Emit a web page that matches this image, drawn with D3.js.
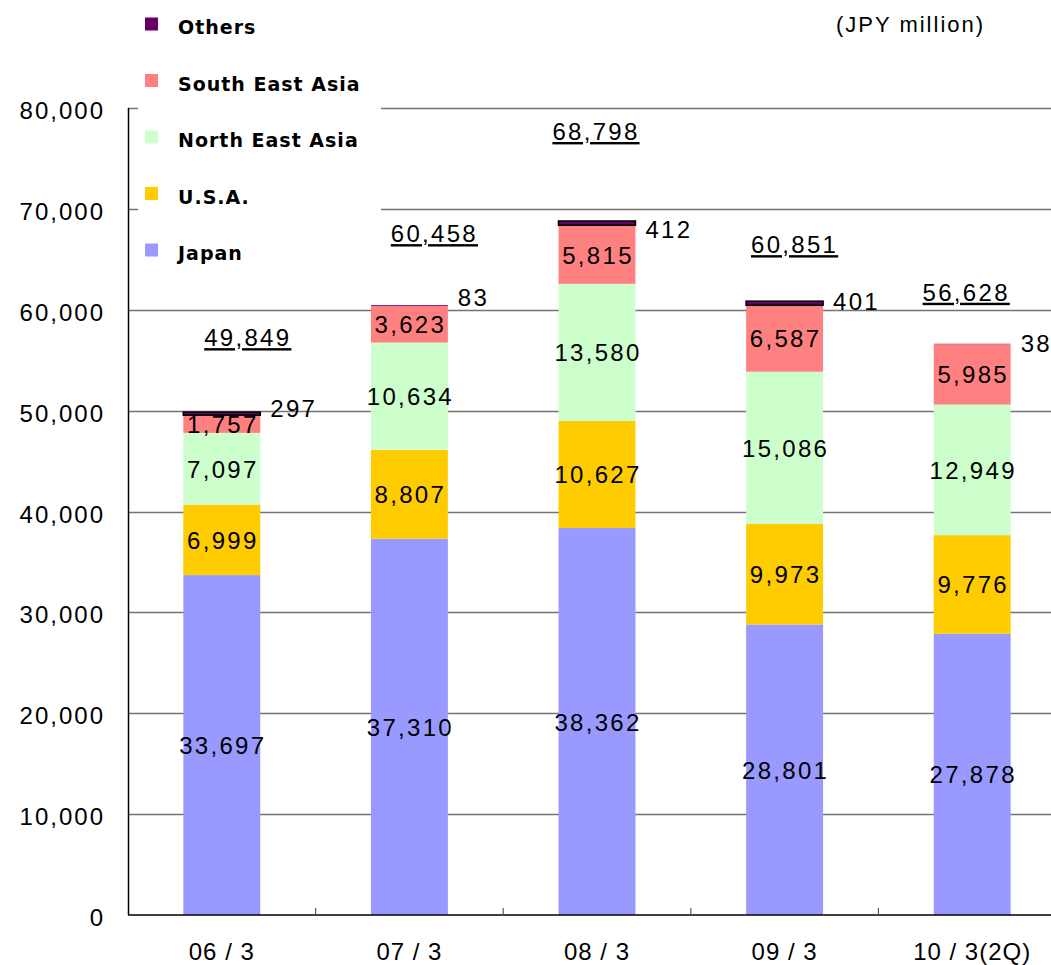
<!DOCTYPE html>
<html lang="en">
<head>
    <meta charset="UTF-8">
    <script src="https://d3js.org/d3.v7.min.js"></script>
    <title>Sales by region</title>
    <style>
        body { margin: 0; background: #fff; }
        svg { display: block; font-family: "Liberation Sans", Arial, sans-serif; }
    </style>
</head>
<body>
    <svg id="chart"></svg>
    <script>
        // data (JPY million)
        const categories = ["06 / 3", "07 / 3", "08 / 3", "09 / 3", "10 / 3(2Q)"];
        const japan = [33697, 37310, 38362, 28801, 27878];
        const usa = [6999, 8807, 10627, 9973, 9776];
        const northEastAsia = [7097, 10634, 13580, 15086, 12949];
        const southEastAsia = [1757, 3623, 5815, 6587, 5985];
        const others = [297, 83, 412, 401, 38];
        const totals = [49849, 60458, 68798, 60851, 56628];
        const yTicks = [0, 10000, 20000, 30000, 40000, 50000, 60000, 70000, 80000];

        const seriesNames = ["Japan", "U.S.A.", "North East Asia", "South East Asia", "Others"];
        const seriesValues = [japan, usa, northEastAsia, southEastAsia, others];
        const colors = ["#9999ff", "#ffcc00", "#ccffcc", "#ff8080", "#660066"];

        // the total / others labels were placed by hand in the original, nudge them the same way
        const totalNudge = [[26, -75], [25, -72], [-1, -90], [10, -57], [-6, -52]];
        const othersNudge = [0, -4, 12, 4, 3];

        const w = 1051, h = 965;
        const mLeft = 128, mRight = 1066, mTop = 108, mBottom = 915;

        const svg = d3.select("#chart").attr("width", w).attr("height", h);

        const x = d3.scaleBand().domain(categories).range([mLeft, mRight]).paddingInner(0.59).paddingOuter(0.295);
        const y = d3.scaleLinear().domain([0, 80000]).range([mBottom, mTop]);

        const fmt = d3.format(",");

        // gridlines
        svg.append("g")
            .selectAll("line")
            .data(yTicks.filter(d => d > 0))
            .join("line")
            .attr("x1", mLeft).attr("x2", w)
            .attr("y1", d => Math.round(y(d)) + 0.5).attr("y2", d => Math.round(y(d)) + 0.5)
            .attr("stroke", "#737373").attr("stroke-width", 1.3);

        // y axis labels
        svg.append("g")
            .selectAll("text")
            .data(yTicks)
            .join("text")
            .attr("x", 105)
            .attr("y", d => y(d) + 11)
            .attr("text-anchor", "end")
            .style("font-size", "24px")
            .style("letter-spacing", "2px")
            .text(d => fmt(d));

        // stacked bars
        const stackData = categories.map((c, i) => {
            const row = { cat: c };
            seriesNames.forEach((s, k) => row[s] = seriesValues[k][i]);
            return row;
        });
        const stacked = d3.stack().keys(seriesNames)(stackData);

        const layers = svg.append("g")
            .selectAll("g")
            .data(stacked)
            .join("g")
            .attr("fill", (d, k) => colors[k]);

        layers.selectAll("rect")
            .data(d => d.map(p => ({ key: d.key, p: p })))
            .join("rect")
            .attr("x", d => x(d.p.data.cat))
            .attr("width", x.bandwidth())
            .attr("y", d => y(d.p[1]))
            .attr("height", d => y(d.p[0]) - y(d.p[1]))
            .attr("stroke", d => d.key === "Others" && d.p[1] - d.p[0] > 100 ? "#000" : "none")
            .attr("stroke-width", 1.6);

        // segment labels (all but Others)
        stacked.slice(0, 4).forEach(layer => {
            svg.append("g")
                .selectAll("text")
                .data(layer)
                .join("text")
                .attr("x", d => x(d.data.cat) + x.bandwidth() / 2 + 1)
                .attr("y", d => (y(d[0]) + y(d[1])) / 2 + 9)
                .attr("text-anchor", "middle")
                .style("font-size", "24px")
                .style("letter-spacing", "2.3px")
                .text(d => fmt(d[1] - d[0]));
        });

        // Others labels to the right of the bar top
        const topLayer = stacked[4];
        svg.append("g")
            .selectAll("text")
            .data(topLayer)
            .join("text")
            .attr("x", d => x(d.data.cat) + x.bandwidth() + 10)
            .attr("y", (d, i) => y(d[1]) + 5 + othersNudge[i])
            .style("font-size", "24px")
            .style("letter-spacing", "2.3px")
            .text(d => fmt(d[1] - d[0]));

        // totals, underlined
        svg.append("g")
            .selectAll("text")
            .data(totals)
            .join("text")
            .attr("x", (d, i) => x(categories[i]) + x.bandwidth() / 2 + totalNudge[i][0])
            .attr("y", (d, i) => y(d) + totalNudge[i][1] + 9)
            .attr("text-anchor", "middle")
            .style("font-size", "24px")
            .style("letter-spacing", "2.3px")
            .style("text-decoration", "underline")
            .text(d => fmt(d));

        // axes lines
        svg.append("line")
            .attr("x1", mLeft + 0.5).attr("x2", mLeft + 0.5)
            .attr("y1", mTop).attr("y2", mBottom)
            .attr("stroke", "#000").attr("stroke-width", 1.5);

        const xAxis = svg.append("g").attr("transform", "translate(0," + mBottom + ")");
        xAxis.append("line")
            .attr("x1", mLeft).attr("x2", w)
            .attr("stroke", "#000").attr("stroke-width", 1.5);
        xAxis.selectAll(".tick")
            .data(categories.slice(1))
            .join("line")
            .attr("class", "tick")
            .attr("x1", d => x(d) - x.step() * x.paddingInner() / 2)
            .attr("x2", d => x(d) - x.step() * x.paddingInner() / 2)
            .attr("y1", 0).attr("y2", -7)
            .attr("stroke", "#555").attr("stroke-width", 1.2);
        xAxis.selectAll(".label")
            .data(categories)
            .join("text")
            .attr("class", "label")
            .attr("x", d => x(d) + x.bandwidth() / 2)
            .attr("y", 45)
            .attr("text-anchor", "middle")
            .style("font-size", "24px")
            .style("letter-spacing", "1px")
            .text(d => d);

        // legend with a white box over the gridlines
        const legend = svg.append("g");
        legend.append("rect")
            .attr("x", 138).attr("y", 0).attr("width", 243).attr("height", 275)
            .attr("fill", "#fff");
        const legendOrder = [4, 3, 2, 1, 0];
        legendOrder.forEach((k, row) => {
            const cy = 24 + row * 56.5;
            legend.append("rect")
                .attr("x", 145).attr("y", cy - 6.5).attr("width", 13).attr("height", 13)
                .attr("fill", colors[k]);
            legend.append("text")
                .attr("x", 178).attr("y", cy + 10)
                .style("font-family", "'DejaVu Sans', Verdana, sans-serif")
                .style("font-weight", "bold")
                .style("font-size", "19px")
                .style("letter-spacing", "1px")
                .text(seriesNames[k]);
        });

        // unit
        svg.append("text")
            .attr("x", 836).attr("y", 32)
            .style("font-size", "22px")
            .style("letter-spacing", "2px")
            .text("(JPY million)");
    </script>
</body>
</html>
